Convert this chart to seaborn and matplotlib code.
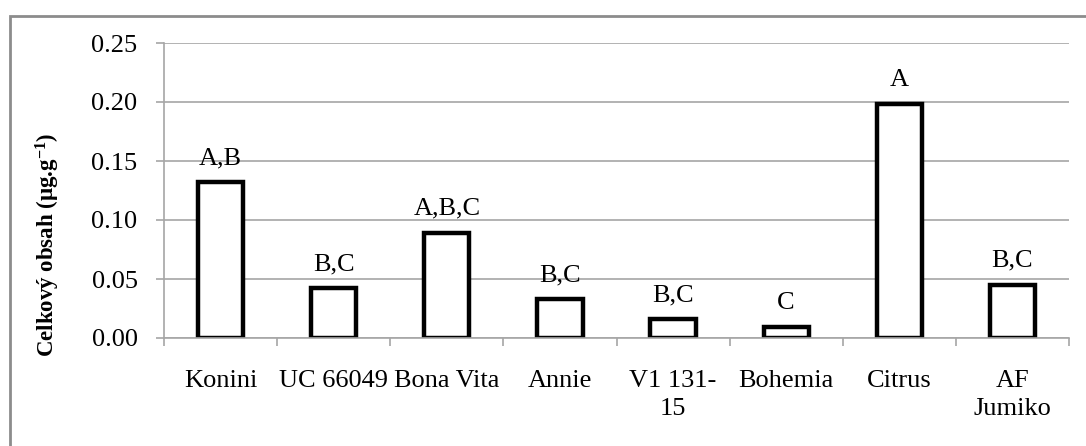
import matplotlib
matplotlib.use("Agg")
import matplotlib.pyplot as plt
from matplotlib.patches import Rectangle
from matplotlib.ticker import FixedLocator, MultipleLocator
import seaborn as sns
import pandas as pd

# Hop varieties, total content and significance groups
varieties = ["Konini", "UC 66049", "Bona Vita", "Annie", "V1 131-\n15",
             "Bohemia", "Citrus", "AF\nJumiko"]
content = [0.132, 0.042, 0.089, 0.033, 0.016, 0.009, 0.198, 0.045]
groups = ["A,B", "B,C", "A,B,C", "B,C", "B,C", "C", "A", "B,C"]
y_ticks = [0.00, 0.05, 0.10, 0.15, 0.20, 0.25]

df = pd.DataFrame({"variety": varieties, "content": content})

sns.set_theme(style="white")
plt.rcParams["font.family"] = ["Liberation Serif", "DejaVu Serif"]
plt.rcParams["mathtext.default"] = "regular"

grid_grey = "#a6a6a6"
fs = 19

fig = plt.figure(figsize=(10.86, 4.46), dpi=100)
ax = fig.add_axes([164 / 1086, 1 - 338 / 446, 905 / 1086, 295 / 446])

sns.barplot(data=df, x="variety", y="content", ax=ax, width=0.4,
            color="white", edgecolor="black", linewidth=3.2,
            saturation=1, errorbar=None)

ax.set_ylim(0, 0.25)
ax.set_xlim(-0.5, len(varieties) - 0.5)
ax.yaxis.set_major_locator(FixedLocator(y_ticks))
ax.set_yticklabels([f"{v:.2f}" for v in y_ticks])
ax.grid(axis="y", color=grid_grey, linewidth=1.2)
ax.set_axisbelow(True)

for side in ("top", "right"):
    ax.spines[side].set_visible(False)
for side in ("left", "bottom"):
    ax.spines[side].set_color(grid_grey)
    ax.spines[side].set_linewidth(1.2)

# Category ticks sit between bars
ax.xaxis.set_minor_locator(MultipleLocator(1, offset=0.5))
ax.tick_params(axis="x", which="major", length=0, pad=23,
               labelsize=fs, labelcolor="black")
ax.tick_params(axis="x", which="minor", length=6, width=1.2,
               color=grid_grey, direction="out", bottom=True)
ax.tick_params(axis="y", which="major", length=6, width=1.2,
               color=grid_grey, direction="out", left=True, pad=13,
               labelsize=fs, labelcolor="black")
ax.set_xlabel("")
ax.set_ylabel("")
for lbl in ax.get_xticklabels():
    lbl.set_linespacing(1.35)

# Significance letters above each bar
for i, (v, g) in enumerate(zip(content, groups)):
    ax.annotate(g, xy=(i, v), xytext=(0, 13), textcoords="offset points",
                ha="center", va="baseline", fontsize=fs, color="black")

fig.text(48 / 1086, 1 - 245 / 446, "Celkový obsah (µg.g$^{-1}$)",
         rotation=90, ha="center", va="center", fontsize=16.5,
         fontweight="bold", color="black")

# Chart-area frame
fig.patches.append(Rectangle((9.5 / 1086, -0.1), 1.2, 1.1 - 15.5 / 446,
                             transform=fig.transFigure, fill=False,
                             edgecolor="#8c8c8c", linewidth=2.0))

fig.savefig("out.png", dpi=100)
